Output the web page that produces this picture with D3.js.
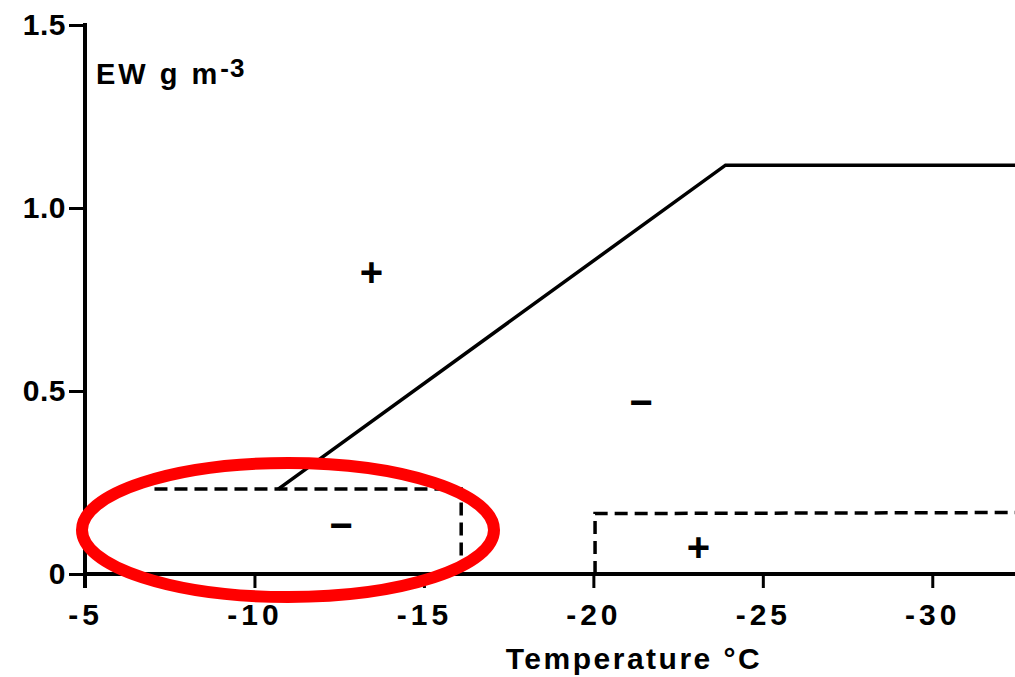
<!DOCTYPE html>
<html>
<head>
<meta charset="utf-8">
<script src="https://cdn.jsdelivr.net/npm/d3@7"></script>
<style>
  body { margin: 0; background: #fff; }
  svg text { font-family: "Liberation Sans", Arial, sans-serif; font-weight: bold; fill: #000; }
</style>
</head>
<body>
<svg id="chart" width="1015" height="677"></svg>
<script>
// x ticks (temperature, degC) and y ticks (E, W g m-3)
const x_ticks = [-5, -10, -15, -20, -25, -30]
const y_ticks = [0, 0.5, 1.0, 1.5]
const y_tick_labels = ['0', '0.5', '1.0', '1.5']

// solid curve
const solid_t = [-10.7, -23.9, -32.5]
const solid_e = [0.232, 1.117, 1.117]

// dashed curves
const dash1_t = [-7.05, -16.1, -16.1]
const dash1_e = [0.232, 0.232, 0]
const dash2_t = [-20.05, -20.05, -32.5]
const dash2_e = [0, 0.165, 0.168]

// sign labels
const sign_text = ['+', '\u2212', '\u2212', '+']
const sign_t = [-13.45, -21.4, -12.55, -23.1]
const sign_e = [0.825, 0.47, 0.135, 0.075]

const svg = d3.select('#chart')

const x = d3.scaleLinear().domain([-5, -32.5]).range([85, 1017])
const y = d3.scaleLinear().domain([0, 1.5]).range([574, 25])

const line = d3.line().x(d => x(d[0])).y(d => y(d[1]))

// Axes
let x_axis = svg.append('g')
  .attr('transform', `translate(0, ${y(0)})`)
  .call(d3.axisBottom(x).tickValues(x_ticks).tickSize(14).tickSizeOuter(0).tickPadding(16)
    .tickFormat(d => String(d)))
x_axis.select('.domain').attr('stroke-width', 4).attr('d', `M${x(-5) - 2},0H1015`)
x_axis.selectAll('.tick line').attr('stroke-width', 3)
x_axis.selectAll('.tick text')
  .style('font-size', '30px')
  .style('letter-spacing', '4px')
  .attr('font-family', null)

let y_axis = svg.append('g')
  .attr('transform', `translate(${x(-5)}, 0)`)
  .call(d3.axisLeft(y).tickValues(y_ticks).tickSize(16).tickSizeOuter(0).tickPadding(3)
    .tickFormat((d, i) => y_tick_labels[i]))
y_axis.select('.domain').attr('stroke-width', 4).attr('d', `M0,${y(1.5) - 2}V${y(0) + 14}`)
y_axis.selectAll('.tick line').attr('stroke-width', 3)
y_axis.selectAll('.tick text')
  .style('font-size', '30px')
  .style('letter-spacing', '0.5px')
  .attr('font-family', null)

// Axis titles
svg.append('text')
  .attr('x', 634).attr('y', 669)
  .attr('text-anchor', 'middle')
  .style('font-size', '30px')
  .style('letter-spacing', '2.5px')
  .text('Temperature \u00B0C')

let y_title = svg.append('text')
  .attr('x', 96).attr('y', 84)
  .style('font-size', '29px')
  .style('letter-spacing', '3px')
y_title.append('tspan').text('EW g m')
y_title.append('tspan').attr('dy', -7).style('font-size', '26px').style('letter-spacing', '1px').text('-3')

// Curves
svg.append('path')
  .attr('d', line(d3.zip(solid_t, solid_e)))
  .attr('fill', 'none').attr('stroke', '#000').attr('stroke-width', 3.5)

svg.append('path')
  .attr('d', line(d3.zip(dash1_t, dash1_e)))
  .attr('fill', 'none').attr('stroke', '#000').attr('stroke-width', 3.5)
  .attr('stroke-dasharray', '13 7')

svg.append('path')
  .attr('d', line(d3.zip(dash2_t, dash2_e)))
  .attr('fill', 'none').attr('stroke', '#000').attr('stroke-width', 3.5)
  .attr('stroke-dasharray', '13 7')

// Sign labels
svg.selectAll('.sign')
  .data(sign_text)
  .enter().append('text')
  .attr('class', 'sign')
  .attr('x', (d, i) => x(sign_t[i]))
  .attr('y', (d, i) => y(sign_e[i]))
  .attr('text-anchor', 'middle')
  .attr('dominant-baseline', 'central')
  .style('font-size', '40px')
  .text(d => d)

// Red highlight ellipse
svg.append('ellipse')
  .attr('cx', 288).attr('cy', 530)
  .attr('rx', 206).attr('ry', 67)
  .attr('fill', 'none')
  .attr('stroke', '#f00')
  .attr('stroke-width', 12)
</script>
</body>
</html>
